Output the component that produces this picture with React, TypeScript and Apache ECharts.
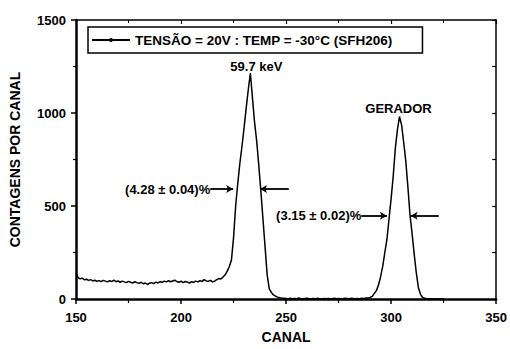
import React, { useEffect, useRef } from "react";
import * as echarts from "echarts";

// Spectrum: counts per channel, starting at channel 150
const channelStart = 150;
const counts: number[] = [
  // 150-159
  140, 115, 108, 112, 103, 106, 100, 104, 97, 101,
  // 160-169
  95, 99, 93, 100, 96, 92, 98, 94, 101, 93,
  // 170-179
  97, 90, 96, 92, 88, 95, 90, 86, 93, 88,
  // 180-189
  84, 90, 82, 86, 78, 85, 88, 83, 91, 86,
  // 190-199
  94, 89, 96, 92, 98, 93, 97, 101, 94, 90,
  // 200-209
  96, 88, 94, 91, 86, 93, 89, 96, 92, 99,
  // 210-219
  94, 104, 97, 95, 100, 92, 96, 104, 110, 108,
  // 220-229
  118, 130, 150, 175, 210, 330, 500, 620, 730, 820,
  // 230-239
  920, 1025, 1125, 1215, 1080, 950, 850, 720, 580, 430,
  // 240-249
  280, 130, 55, 35, 22, 15, 10, 7, 5, 4,
  // 250-259
  3, 2, 4, 1, 3, 2, 5, 2, 1, 3,
  // 260-269
  4, 2, 1, 3, 2, 4, 1, 2, 3, 1,
  // 270-279
  3, 2, 1, 4, 2, 3, 1, 2, 4, 3,
  // 280-289
  2, 4, 3, 1, 3, 2, 4, 3, 5, 6,
  // 290-299
  8, 14, 30, 45, 75, 120, 175, 250, 320, 430,
  // 300-309
  540, 660, 810, 910, 980, 935, 840, 740, 600, 450,
  // 310-319
  350, 240, 140, 60, 25, 8, 4, 2, 1, 2,
  // 320-325
  0, 1, 0, 1, 0, 0,
];

const seriesName = "TENSÃO = 20V : TEMP = -30°C (SFH206)";

const xTicks = { min: 150, max: 350, interval: 50 };
const yTicks = { min: 0, max: 1500, interval: 500 };

// Peak labels: [channel, counts, text]
const peakLabels: [number, number, string][] = [
  [233, 1215, "59.7 keV"],
  [304, 980, "GERADOR"],
];

// FWHM annotations: level, left arrow [from, to], right arrow [from, to], text
const fwhmLevels = [591, 447];
const fwhmLeftArrows: [number, number][] = [
  [213.9, 224.8],
  [285.8, 298.0],
];
const fwhmRightArrows: [number, number][] = [
  [251.3, 237.6],
  [322.7, 309.3],
];
const fwhmTexts = ["(4.28 ± 0.04)%", "(3.15 ± 0.02)%"];

const FONT = "'Liberation Sans', Arial, Helvetica, sans-serif";

export default function App() {
  const ref = useRef<HTMLDivElement>(null);

  useEffect(() => {
    if (!ref.current) return;
    const chart = echarts.init(ref.current, undefined, { renderer: "svg" });

    const data = counts.map((c, i) => [channelStart + i, c]);

    const markLineData: any[] = [];
    fwhmLevels.forEach((lvl, i) => {
      markLineData.push([
        { coord: [fwhmLeftArrows[i][0], lvl] },
        { coord: [fwhmLeftArrows[i][1], lvl] },
      ]);
      markLineData.push([
        { coord: [fwhmRightArrows[i][0], lvl] },
        { coord: [fwhmRightArrows[i][1], lvl] },
      ]);
    });

    const markPointData: any[] = [];
    peakLabels.forEach(([x, y, t], i) => {
      markPointData.push({
        coord: [x, y],
        name: t,
        label: {
          position: "top",
          distance: i === 0 ? 0 : 2,
          offset: i === 0 ? [6, 0] : [-1, 0],
        },
      });
    });
    fwhmTexts.forEach((t, i) => {
      markPointData.push({
        coord: [fwhmLeftArrows[i][0], fwhmLevels[i]],
        name: t,
        label: { position: "left", distance: 0 },
      });
    });

    const textBase = {
      fontFamily: FONT,
      fontWeight: "bold" as const,
      color: "#000",
    };

    chart.setOption({
      animation: false,
      backgroundColor: "#fff",
      grid: { left: 75, right: 12.5, top: 20, bottom: 47, containLabel: false },
      legend: {
        data: [seriesName],
        left: 88,
        top: 27,
        itemWidth: 38,
        itemHeight: 5,
        borderColor: "#000",
        borderWidth: 1.5,
        borderRadius: 0,
        padding: [6, 30, 6, 3],
        textStyle: { ...textBase, fontSize: 13.5 },
      },
      xAxis: [
        {
          type: "value",
          position: "bottom",
          min: xTicks.min,
          max: xTicks.max,
          interval: xTicks.interval,
          name: "CANAL",
          nameLocation: "middle",
          nameGap: 31,
          nameTextStyle: { ...textBase, fontSize: 14 },
          axisLine: { show: true, onZero: false, lineStyle: { color: "#000", width: 2.5 } },
          axisTick: { show: true, inside: false, length: 5, lineStyle: { color: "#000", width: 1.5 } },
          minorTick: { show: true, splitNumber: 2, length: 4, lineStyle: { color: "#000", width: 1.2 } },
          axisLabel: { ...textBase, fontSize: 13, margin: 12, formatter: (v: number) => String(v) },
          splitLine: { show: false },
        },
        {
          type: "value",
          position: "top",
          min: xTicks.min,
          max: xTicks.max,
          interval: xTicks.interval,
          axisLine: { show: true, onZero: false, lineStyle: { color: "#000", width: 1.5 } },
          axisTick: { show: true, inside: true, length: 4, lineStyle: { color: "#000", width: 1.2 } },
          minorTick: { show: true, splitNumber: 2, length: 3, lineStyle: { color: "#000", width: 1 } },
          axisLabel: { show: false },
          splitLine: { show: false },
        },
      ],
      yAxis: [
        {
          type: "value",
          position: "left",
          min: yTicks.min,
          max: yTicks.max,
          interval: yTicks.interval,
          name: "CONTAGENS POR CANAL",
          nameLocation: "middle",
          nameGap: 54,
          nameTextStyle: { ...textBase, fontSize: 14, padding: [0, 0, 0, 0] },
          axisLine: { show: true, onZero: false, lineStyle: { color: "#000", width: 2.5 } },
          axisTick: { show: true, inside: false, length: 5, lineStyle: { color: "#000", width: 1.5 } },
          minorTick: { show: true, splitNumber: 2, length: 3, lineStyle: { color: "#000", width: 1.2 } },
          axisLabel: { ...textBase, fontSize: 13, margin: 10, formatter: (v: number) => String(v) },
          splitLine: { show: false },
        },
        {
          type: "value",
          position: "right",
          min: yTicks.min,
          max: yTicks.max,
          interval: yTicks.interval,
          axisLine: { show: true, onZero: false, lineStyle: { color: "#000", width: 1.5 } },
          axisTick: { show: true, inside: true, length: 4, lineStyle: { color: "#000", width: 1.2 } },
          minorTick: { show: true, splitNumber: 2, length: 4, lineStyle: { color: "#000", width: 1.2 } },
          axisLabel: { show: false },
          splitLine: { show: false },
        },
      ],
      series: [
        {
          name: seriesName,
          type: "line",
          xAxisIndex: 0,
          yAxisIndex: 0,
          data,
          symbol: "circle",
          symbolSize: 3,
          showSymbol: false,
          smooth: false,
          lineStyle: { color: "#000", width: 1.5 },
          itemStyle: { color: "#000" },
          markLine: {
            silent: true,
            symbol: ["none", "arrow"],
            symbolSize: [6, 7],
            lineStyle: { color: "#000", width: 1.8, type: "solid" },
            label: { show: false },
            emphasis: { disabled: true },
            data: markLineData,
          },
          markPoint: {
            silent: true,
            symbol: "circle",
            symbolSize: 0,
            itemStyle: { color: "transparent" },
            label: {
              show: true,
              formatter: "{b}",
              ...textBase,
              fontSize: 13,
            },
            data: markPointData,
          },
        },
      ],
    });

    return () => chart.dispose();
  }, []);

  return (
    <div
      ref={ref}
      style={{ position: "fixed", left: 0, top: 0, width: 510, height: 349, background: "#fff" }}
    />
  );
}
